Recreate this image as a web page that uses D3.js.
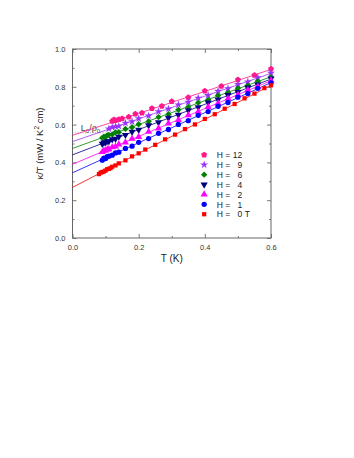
<!DOCTYPE html>
<html>
<head>
<meta charset="utf-8">
<script src="https://cdn.jsdelivr.net/npm/d3@7"></script>
<style>
  body { margin: 0; background: #fff; }
  svg text { font-family: Arial, "Liberation Sans", Helvetica, sans-serif; }
</style>
</head>
<body>
<div id="chart"></div>
<script>
// data
const fields = ["12", "9", "6", "4", "2", "1", "0"];
const colors = ["#ff1a8c", "#9933ff", "#008000", "#000080", "#ff00ff", "#0000ff", "#ff0000"];

// linear fits: [intercept at T=0, value at T=0.6]
const fits = [
  [0.543, 0.892], [0.510, 0.871], [0.474, 0.853], [0.440, 0.841],
  [0.390, 0.832], [0.345, 0.822], [0.268, 0.808]
];

const tH12 = [0.12, 0.125, 0.13, 0.14, 0.15, 0.17, 0.19, 0.21, 0.24, 0.27, 0.30, 0.35, 0.40, 0.45, 0.50, 0.55, 0.60];
const kH12 = [0.618, 0.626, 0.622, 0.628, 0.632, 0.640, 0.656, 0.662, 0.686, 0.698, 0.722, 0.744, 0.778, 0.803, 0.838, 0.861, 0.894];

const tH9 = [0.11, 0.12, 0.13, 0.14, 0.16, 0.18, 0.20, 0.23, 0.26, 0.29, 0.32, 0.35, 0.38, 0.41, 0.44, 0.47, 0.50, 0.53, 0.56, 0.60];
const kH9 = [0.578, 0.586, 0.590, 0.592, 0.608, 0.616, 0.632, 0.646, 0.669, 0.683, 0.705, 0.719, 0.741, 0.755, 0.777, 0.791, 0.813, 0.827, 0.849, 0.873];

const tH6 = [0.09, 0.095, 0.10, 0.105, 0.11, 0.12, 0.13, 0.14, 0.16, 0.18, 0.20, 0.23, 0.26, 0.29, 0.32, 0.35, 0.38, 0.41, 0.44, 0.47, 0.50, 0.53, 0.56, 0.60];
const kH6 = [0.530, 0.536, 0.535, 0.543, 0.546, 0.548, 0.559, 0.560, 0.577, 0.586, 0.602, 0.617, 0.640, 0.655, 0.678, 0.693, 0.716, 0.731, 0.754, 0.769, 0.792, 0.807, 0.830, 0.851];

const tH4 = [0.09, 0.095, 0.10, 0.105, 0.11, 0.12, 0.13, 0.14, 0.16, 0.18, 0.20, 0.23, 0.26, 0.29, 0.32, 0.35, 0.38, 0.41, 0.44, 0.47, 0.50, 0.53, 0.56, 0.60];
const kH4 = [0.498, 0.505, 0.506, 0.512, 0.511, 0.522, 0.525, 0.536, 0.545, 0.562, 0.572, 0.596, 0.612, 0.636, 0.652, 0.676, 0.692, 0.716, 0.732, 0.756, 0.772, 0.796, 0.812, 0.843];

const tH2 = [0.09, 0.095, 0.10, 0.105, 0.11, 0.12, 0.13, 0.14, 0.16, 0.18, 0.20, 0.23, 0.26, 0.29, 0.32, 0.35, 0.38, 0.41, 0.44, 0.47, 0.50, 0.53, 0.56, 0.60];
const kH2 = [0.455, 0.462, 0.463, 0.469, 0.470, 0.480, 0.484, 0.495, 0.506, 0.525, 0.535, 0.562, 0.580, 0.606, 0.624, 0.650, 0.668, 0.694, 0.712, 0.738, 0.757, 0.783, 0.801, 0.834];

const tH1 = [0.09, 0.095, 0.10, 0.105, 0.11, 0.12, 0.13, 0.14, 0.16, 0.18, 0.20, 0.23, 0.26, 0.29, 0.32, 0.35, 0.38, 0.41, 0.44, 0.47, 0.50, 0.53, 0.56, 0.60];
const kH1 = [0.412, 0.423, 0.420, 0.430, 0.433, 0.438, 0.450, 0.454, 0.474, 0.486, 0.506, 0.526, 0.554, 0.574, 0.601, 0.621, 0.649, 0.669, 0.697, 0.717, 0.745, 0.764, 0.792, 0.820];

const tH0 = [0.08, 0.085, 0.09, 0.095, 0.10, 0.105, 0.11, 0.115, 0.12, 0.13, 0.14, 0.16, 0.18, 0.20, 0.22, 0.25, 0.28, 0.31, 0.34, 0.37, 0.40, 0.43, 0.46, 0.49, 0.52, 0.55, 0.58, 0.60];
const kH0 = [0.338, 0.346, 0.349, 0.352, 0.357, 0.364, 0.366, 0.370, 0.377, 0.384, 0.395, 0.411, 0.432, 0.448, 0.468, 0.493, 0.522, 0.547, 0.576, 0.601, 0.630, 0.655, 0.684, 0.709, 0.739, 0.764, 0.793, 0.808];

const tSets = [tH12, tH9, tH6, tH4, tH2, tH1, tH0];
const kSets = [kH12, kH9, kH6, kH4, kH2, kH1, kH0];

const L0rho0 = 0.557;

const xTicks = [0.0, 0.2, 0.4, 0.6];
const xMinor = [0.1, 0.3, 0.5];
const yTicks = [0.0, 0.2, 0.4, 0.6, 0.8, 1.0];
const yMinor = [0.1, 0.3, 0.5, 0.7, 0.9];

const W = 354, H = 458;
const margin = { top: 49, right: 83, bottom: 220, left: 72.5 },
  width = W - margin.left - margin.right,
  height = H - margin.top - margin.bottom;

const svg = d3.select("#chart").append("svg")
  .attr("width", W).attr("height", H)
  .append("g")
  .attr("transform", `translate(${margin.left}, ${margin.top})`);

const x = d3.scaleLinear().domain([0, 0.6]).range([0, width]);
const y = d3.scaleLinear().domain([0, 1.0]).range([height, 0]);

// pentagon symbol
const symbolPentagon = {
  draw(context, size) {
    const r = Math.sqrt(size / 2.378);
    for (let i = 0; i < 5; i++) {
      const a = -Math.PI / 2 + i * 2 * Math.PI / 5;
      const px = r * Math.cos(a), py = r * Math.sin(a);
      if (i === 0) context.moveTo(px, py); else context.lineTo(px, py);
    }
    context.closePath();
  }
};
const symbolTriDown = {
  draw(context, size) {
    const s = Math.sqrt(size / 0.433);
    const h = s * Math.sqrt(3) / 2;
    context.moveTo(0, h * 2 / 3);
    context.lineTo(s / 2, -h / 3);
    context.lineTo(-s / 2, -h / 3);
    context.closePath();
  }
};
// square turned 45 degrees
const symbolRhomb = {
  draw(context, size) {
    const r = Math.sqrt(size / 2);
    context.moveTo(0, -r);
    context.lineTo(r, 0);
    context.lineTo(0, r);
    context.lineTo(-r, 0);
    context.closePath();
  }
};
const shapes = [
  d3.symbol(symbolPentagon, 24),
  d3.symbol(d3.symbolStar, 20),
  d3.symbol(symbolRhomb, 20),
  d3.symbol(symbolTriDown, 22),
  d3.symbol(d3.symbolTriangle, 22),
  d3.symbol(d3.symbolCircle, 22),
  d3.symbol(d3.symbolSquare, 18)
];

// axes with inward ticks
function tickStyle(g) {
  g.select(".domain").remove();
  g.selectAll("line").attr("stroke", "#555").attr("stroke-width", 0.8);
  g.selectAll("text").attr("fill", "#333").attr("font-size", "7.5px")
    .attr("font-family", "Arial, 'Liberation Sans', sans-serif");
}
svg.append("g").attr("transform", `translate(0,${height})`)
  .call(d3.axisBottom(x).tickValues(xTicks).tickSize(-4).tickPadding(7).tickFormat(d3.format(".1f")))
  .call(tickStyle);
svg.append("g").attr("transform", `translate(0,${height})`)
  .call(d3.axisBottom(x).tickValues(xMinor).tickSize(-2).tickFormat(""))
  .call(tickStyle);
svg.append("g")
  .call(d3.axisTop(x).tickValues(xTicks).tickSize(-4).tickFormat(""))
  .call(tickStyle);
svg.append("g")
  .call(d3.axisTop(x).tickValues(xMinor).tickSize(-2).tickFormat(""))
  .call(tickStyle);
svg.append("g")
  .call(d3.axisLeft(y).tickValues(yTicks).tickSize(-4).tickPadding(7).tickFormat(d3.format(".1f")))
  .call(tickStyle);
svg.append("g")
  .call(d3.axisLeft(y).tickValues(yMinor).tickSize(-2).tickFormat(""))
  .call(tickStyle);
svg.append("g").attr("transform", `translate(${width},0)`)
  .call(d3.axisRight(y).tickValues(yTicks).tickSize(-4).tickFormat(""))
  .call(tickStyle);
svg.append("g").attr("transform", `translate(${width},0)`)
  .call(d3.axisRight(y).tickValues(yMinor).tickSize(-2).tickFormat(""))
  .call(tickStyle);

svg.append("rect")
  .attr("width", width).attr("height", height)
  .attr("fill", "none").attr("stroke", "#666").attr("stroke-width", 1);

// L0/rho0 dotted line
svg.append("line")
  .attr("x1", x(0)).attr("x2", x(0.1))
  .attr("y1", y(L0rho0)).attr("y2", y(L0rho0))
  .attr("stroke", "#999").attr("stroke-width", 0.8).attr("stroke-dasharray", "1,1.5");
const lab = svg.append("text")
  .attr("x", x(0.025)).attr("y", y(L0rho0) - 2)
  .attr("font-size", "9px").attr("fill", "#444");
lab.append("tspan").text("L");
lab.append("tspan").attr("font-size", "6px").attr("dy", 2).text("0");
lab.append("tspan").attr("dy", -2).text("/\u03c1");
lab.append("tspan").attr("font-size", "6px").attr("dy", 2).text("0");

// fit lines
fits.forEach((f, i) => {
  svg.append("line")
    .attr("x1", x(0)).attr("y1", y(f[0]))
    .attr("x2", x(0.6)).attr("y2", y(f[1]))
    .attr("stroke", colors[i]).attr("stroke-width", 0.8);
});

// data points
for (let i = 0; i < fields.length; i++) {
  const pts = tSets[i].map((t, j) => [t, kSets[i][j]]);
  svg.append("g").selectAll("path").data(pts).join("path")
    .attr("d", shapes[i])
    .attr("transform", d => `translate(${x(d[0])},${y(d[1])})`)
    .attr("fill", colors[i]);
}

// legend
const leg = svg.append("g").attr("transform", `translate(${x(0.398)},${y(0.44)})`);
fields.forEach((f, i) => {
  const row = leg.append("g").attr("transform", `translate(0,${i * 9.9})`);
  row.append("path").attr("d", shapes[i]).attr("fill", colors[i]);
  row.append("text").attr("x", 12.5).attr("y", 3.2)
    .attr("font-size", "8.5px").attr("fill", "#222").text("H =");
  row.append("text").attr("x", 38).attr("y", 3.2).attr("text-anchor", "end")
    .attr("font-size", "8.5px").attr("fill", "#222").text(f);
  if (f === "0") {
    row.append("text").attr("x", 40.5).attr("y", 3.2)
      .attr("font-size", "8.5px").attr("fill", "#222").text("T");
  }
});

// axis titles
svg.append("text")
  .attr("x", width / 2).attr("y", height + 24)
  .attr("text-anchor", "middle").attr("font-size", "10px").attr("fill", "#222")
  .text("T (K)");
const yt = svg.append("text")
  .attr("transform", `translate(-30,${height / 2}) rotate(-90)`)
  .attr("text-anchor", "middle").attr("font-size", "9.5px").attr("fill", "#222");
yt.append("tspan").text("\u03ba/T (mW / K");
yt.append("tspan").attr("font-size", "6.5px").attr("dy", -4).text("2");
yt.append("tspan").attr("dy", 4).text(" cm)");
</script>
</body>
</html>
